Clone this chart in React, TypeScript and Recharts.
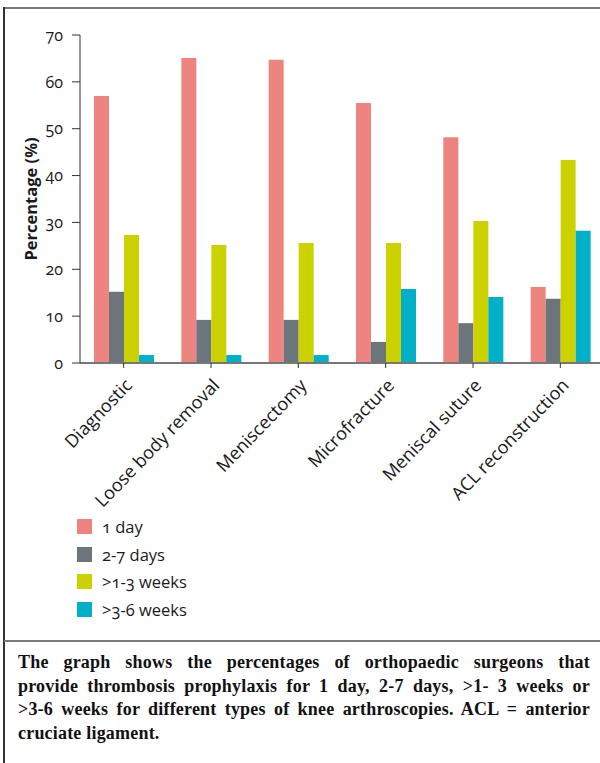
import { Bar, BarChart, XAxis, YAxis } from 'recharts'

const categories = [
  'Diagnostic',
  'Loose body removal',
  'Meniscectomy',
  'Microfracture',
  'Meniscal suture',
  'ACL reconstruction',
]
const oneDay = [57.0, 65.1, 64.7, 55.5, 48.2, 16.2]
const twoToSevenDays = [15.2, 9.2, 9.2, 4.5, 8.5, 13.7]
const oneToThreeWeeks = [27.3, 25.2, 25.6, 25.6, 30.3, 43.3]
const threeToSixWeeks = [1.7, 1.7, 1.7, 15.8, 14.1, 28.2]
const yTicks = [0, 10, 20, 30, 40, 50, 60, 70]

const SERIES = [
  { key: 'oneDay', label: '1 day', color: '#EE8480' },
  { key: 'twoToSeven', label: '2-7 days', color: '#6B757B' },
  { key: 'oneToThree', label: '>1-3 weeks', color: '#CCD200' },
  { key: 'threeToSix', label: '>3-6 weeks', color: '#00AFC8' },
]

const CAPTION = [
  'The graph shows the percentages of orthopaedic surgeons that',
  'provide thrombosis prophylaxis for 1 day, 2-7 days, >1- 3 weeks or',
  '>3-6 weeks for different types of knee arthroscopies. ACL = anterior',
  'cruciate ligament.',
]

const data = categories.map((name, i) => ({
  name,
  oneDay: oneDay[i],
  twoToSeven: twoToSevenDays[i],
  oneToThree: oneToThreeWeeks[i],
  threeToSix: threeToSixWeeks[i],
}))

const FONT = '"Open Sans", sans-serif'

function XTick({ x, y, payload }: { x: number; y: number; payload: { value: string } }) {
  return (
    <g transform={`translate(${x + 5},${y + 12})`}>
      <text
        x={0}
        y={0}
        dy="0.35em"
        textAnchor="end"
        transform="rotate(-46)"
        fill="#1a1a1a"
        fontSize={18}
        fontFamily={FONT}
      >
        {payload.value}
      </text>
    </g>
  )
}

export default function App() {
  return (
    <div
      style={{
        position: 'absolute',
        left: 0,
        top: 0,
        width: 600,
        height: 763,
        overflow: 'hidden',
        background: '#fff',
      }}
    >
      {/* frame lines */}
      <div style={{ position: 'absolute', left: 4, top: 7, width: 596, height: 2, background: '#7a7a7a' }} />
      <div style={{ position: 'absolute', left: 3, top: 7, width: 1.5, height: 756, background: '#333' }} />
      <div style={{ position: 'absolute', left: 4, top: 640, width: 596, height: 2, background: '#7a7a7a' }} />

      <div style={{ position: 'absolute', left: 0, top: 0 }}>
        <BarChart
          width={620}
          height={530}
          data={data}
          margin={{ top: 35, right: 16, bottom: 0, left: 0 }}
          barGap={0}
          barSize={15}
        >
          <XAxis
            dataKey="name"
            interval={0}
            height={167}
            axisLine={{ stroke: '#777', strokeWidth: 2 }}
            tickLine={{ stroke: '#333' }}
            tickSize={5}
            tick={XTick}
          />
          <YAxis
            width={80}
            domain={[0, 70]}
            ticks={yTicks}
            interval={0}
            axisLine={{ stroke: '#333' }}
            tickLine={{ stroke: '#333' }}
            tickSize={8}
            tickMargin={9}
            tick={{
              fill: '#1a1a1a',
              fontSize: 16,
              fontFamily: FONT,
              style: { fontVariantNumeric: 'oldstyle-nums' },
            }}
            label={{
              content: ({ viewBox }: { viewBox?: { x: number; y: number; height: number } }) => {
                const vb = viewBox ?? { x: 0, y: 35, height: 328 }
                const cx = vb.x + 30
                const cy = vb.y + vb.height / 2
                return (
                  <text
                    x={cx}
                    y={cy}
                    textAnchor="middle"
                    dominantBaseline="central"
                    transform={`rotate(-90, ${cx}, ${cy})`}
                    fontSize={16.5}
                    fontWeight={700}
                    fontFamily={FONT}
                    fill="#1a1a1a"
                  >
                    Percentage (%)
                  </text>
                )
              },
            }}
          />
          {SERIES.map((s) => (
            <Bar key={s.key} dataKey={s.key} fill={s.color} isAnimationActive={false} />
          ))}
        </BarChart>
      </div>

      {/* legend */}
      <div style={{ position: 'absolute', left: 77, top: 513, fontFamily: FONT, fontSize: 16.5, color: '#1a1a1a' }}>
        {SERIES.map((s) => (
          <div key={s.key} style={{ display: 'flex', alignItems: 'center', height: 27.5 }}>
            <span style={{ width: 15, height: 15, background: s.color, display: 'inline-block', marginRight: 10 }} />
            <span style={{ fontVariantNumeric: 'oldstyle-nums' }}>{s.label}</span>
          </div>
        ))}
      </div>

      {/* caption */}
      <div
        style={{
          position: 'absolute',
          left: 18,
          top: 651,
          width: 572,
          fontFamily: '"Liberation Serif", serif',
          fontWeight: 700,
          fontSize: 18,
          letterSpacing: 0.2,
          lineHeight: '23.7px',
          color: '#111',
        }}
      >
        {CAPTION.map((line, i) => (
          <div key={i} style={{ textAlign: 'justify', textAlignLast: i < CAPTION.length - 1 ? 'justify' : 'left' }}>
            {line}
          </div>
        ))}
      </div>
    </div>
  )
}
